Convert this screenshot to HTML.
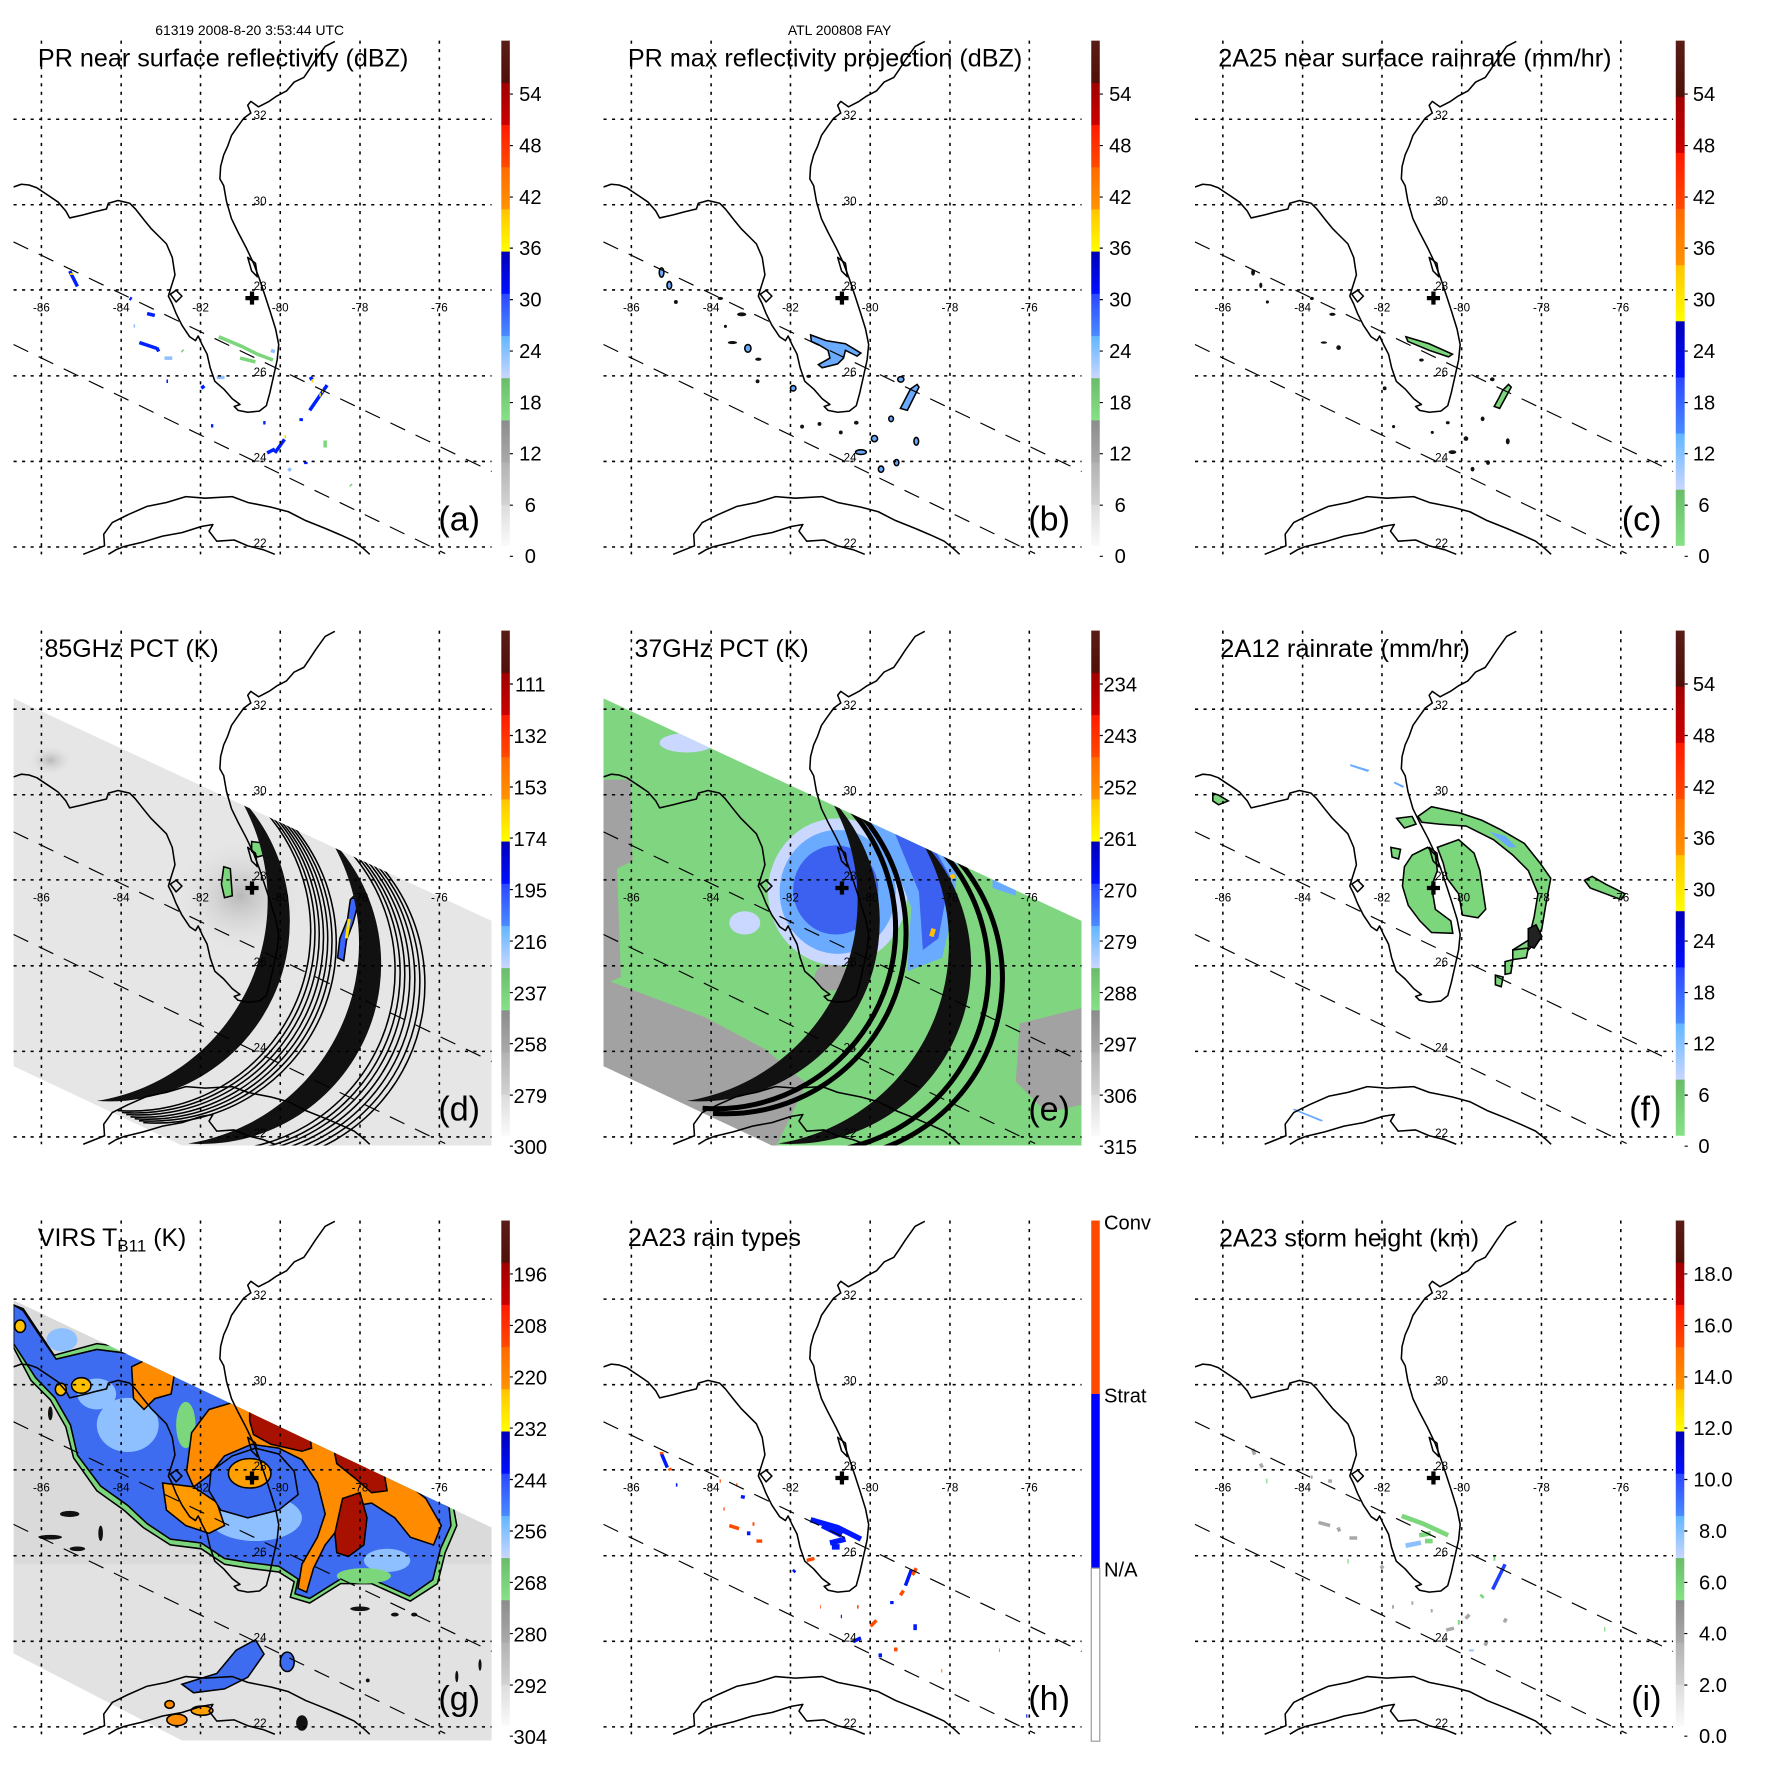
<!DOCTYPE html>
<html><head><meta charset="utf-8"><style>html,body{margin:0;padding:0;background:#fff}svg{display:block}text{font-family:"Liberation Sans",Arial,sans-serif}</style></head><body>
<svg xmlns="http://www.w3.org/2000/svg" xmlns:xlink="http://www.w3.org/1999/xlink" width="1771" height="1771" viewBox="0 0 4575 4575">
<defs>
<linearGradient id="b1" x1="0" y1="0" x2="0" y2="1"><stop offset="0" stop-color="#5a1c16"/><stop offset="1" stop-color="#4e1008"/></linearGradient>
<linearGradient id="b2" x1="0" y1="0" x2="0" y2="1"><stop offset="0" stop-color="#a00000"/><stop offset="1" stop-color="#cc0000"/></linearGradient>
<linearGradient id="b3" x1="0" y1="0" x2="0" y2="1"><stop offset="0" stop-color="#ff1a00"/><stop offset="1" stop-color="#ff4a00"/></linearGradient>
<linearGradient id="b4" x1="0" y1="0" x2="0" y2="1"><stop offset="0" stop-color="#ff6a00"/><stop offset="1" stop-color="#ff9400"/></linearGradient>
<linearGradient id="b5" x1="0" y1="0" x2="0" y2="1"><stop offset="0" stop-color="#ffc400"/><stop offset="1" stop-color="#ffff00"/></linearGradient>
<linearGradient id="b6" x1="0" y1="0" x2="0" y2="1"><stop offset="0" stop-color="#0000b8"/><stop offset="1" stop-color="#0010ff"/></linearGradient>
<linearGradient id="b7" x1="0" y1="0" x2="0" y2="1"><stop offset="0" stop-color="#2a46ff"/><stop offset="1" stop-color="#4a8cff"/></linearGradient>
<linearGradient id="b8" x1="0" y1="0" x2="0" y2="1"><stop offset="0" stop-color="#60b6ff"/><stop offset="1" stop-color="#cad6ff"/></linearGradient>
<linearGradient id="b9" x1="0" y1="0" x2="0" y2="1"><stop offset="0" stop-color="#6abc6a"/><stop offset="1" stop-color="#86e286"/></linearGradient>
<linearGradient id="b10" x1="0" y1="0" x2="0" y2="1"><stop offset="0" stop-color="#8c8c8c"/><stop offset="1" stop-color="#aaaaaa"/></linearGradient>
<linearGradient id="b11" x1="0" y1="0" x2="0" y2="1"><stop offset="0" stop-color="#b2b2b2"/><stop offset="1" stop-color="#d2d2d2"/></linearGradient>
<linearGradient id="b12" x1="0" y1="0" x2="0" y2="1"><stop offset="0" stop-color="#dcdcdc"/><stop offset="1" stop-color="#fafafa"/></linearGradient>
<radialGradient id="spot"><stop offset="0" stop-color="#b8b8b8"/><stop offset="1" stop-color="#e4e4e4" stop-opacity="0"/></radialGradient>
<clipPath id="pc"><rect x="35" y="105" width="1235" height="1330"/></clipPath>
<clipPath id="sw"><polygon points="35,280 1270,855 1270,1435 470,1435 35,1230"/></clipPath>
<clipPath id="swg"><polygon points="35,311 1270,898 1270,1448 470,1448 35,1223"/></clipPath>
<path id="arc" d="M615,530 A465,465 0 0 1 250,1320" fill="none"/>
<path id="cres" d="M615,530 A465,465 0 0 1 250,1320 A524,524 0 0 0 615,530 Z"/>
<g id="base">
<path d="M107,105V1432M313,105V1432M518,105V1432M724,105V1432M930,105V1432M1135,105V1432M35,308H1270M35,529H1270M35,749H1270M35,971H1270M35,1192H1270M35,1413H1270" stroke="#000" stroke-width="4" stroke-dasharray="8 14" fill="none"/>
<path d="M35,625L1270,1218M35,890L1150,1430" stroke="#000" stroke-width="3" stroke-dasharray="42 30" fill="none"/>
<g clip-path="url(#pc)" fill="none" stroke="#000" stroke-width="4" stroke-linejoin="round">
<path d="M865,107 L840,120 L815,155 L800,178 L785,200 L760,212 L740,235 L715,248 L695,262 L668,276 L648,262 L640,272 L648,292 L630,305 L612,330 L598,350 L588,378 L578,400 L570,430 L568,462 L578,480 L585,520 L598,565 L615,600 L636,640 L655,680 L670,720 L685,765 L698,805 L712,850 L720,890 L716,930 L706,975 L697,1015 L688,1048 L670,1062 L640,1065 L615,1060 L605,1050 L620,1045 L600,1030 L578,1005 L555,985 L543,950 L535,915 L522,890 L512,868 L505,880 L490,870 L470,840 L455,810 L445,785 L435,765 L440,748 L452,710 L445,665 L430,630 L410,610 L390,590 L372,568 L350,540 L335,525 L305,518 L280,525 L275,540 L245,547 L215,555 L180,563 L170,545 L150,522 L125,505 L95,485 L75,478 L55,476 L35,483"/>
<path d="M640,665 L660,680 L665,715 L650,700 Z"/>
<path d="M440,760 L455,750 L470,765 L455,780 Z"/>
<path d="M215,1432 L245,1420 L270,1410 L268,1380 L290,1350 L330,1330 L380,1308 L430,1298 L480,1283 L530,1287 L600,1283 L640,1298 L700,1310 L745,1322 L790,1345 L840,1365 L880,1382 L915,1398 L940,1418 L955,1432"/>
<path d="M710,1432 L680,1420 L640,1410 L605,1395 L560,1398 L540,1372 L550,1355 L520,1360 L470,1376 L420,1385 L370,1400 L320,1412 L300,1420 L280,1432"/>
</g>
<path d="M634,770H668M651,753V787" stroke="#000" stroke-width="11"/>
<g font-size="30" text-anchor="middle" fill="#000">
<text x="107" y="805">-86</text><text x="313" y="805">-84</text><text x="518" y="805">-82</text><text x="724" y="805">-80</text><text x="930" y="805">-78</text><text x="1135" y="805">-76</text>
<text x="672" y="308">32</text><text x="672" y="529">30</text><text x="672" y="749">28</text><text x="672" y="971">26</text><text x="672" y="1192">24</text><text x="672" y="1413">22</text>
</g>
</g>
<g id="cb12">
<rect x="1295" y="105" width="22" height="110" fill="url(#b1)"/><rect x="1295" y="214" width="22" height="110" fill="url(#b2)"/><rect x="1295" y="323" width="22" height="110" fill="url(#b3)"/><rect x="1295" y="432" width="22" height="110" fill="url(#b4)"/><rect x="1295" y="541" width="22" height="110" fill="url(#b5)"/><rect x="1295" y="650" width="22" height="110" fill="url(#b6)"/><rect x="1295" y="759" width="22" height="110" fill="url(#b7)"/><rect x="1295" y="868" width="22" height="110" fill="url(#b8)"/><rect x="1295" y="977" width="22" height="110" fill="url(#b9)"/><rect x="1295" y="1086" width="22" height="110" fill="url(#b10)"/><rect x="1295" y="1195" width="22" height="110" fill="url(#b11)"/><rect x="1295" y="1304" width="22" height="106" fill="url(#b12)"/>
<path d="M1317,243h8M1317,376h8M1317,509h8M1317,641h8M1317,774h8M1317,907h8M1317,1040h8M1317,1172h8M1317,1305h8M1317,1437h8" stroke="#000" stroke-width="3"/>
</g>
<g id="cb9">
<rect x="1317" y="105" width="23" height="146" fill="url(#b1)"/><rect x="1317" y="250" width="23" height="146" fill="url(#b2)"/><rect x="1317" y="395" width="23" height="146" fill="url(#b3)"/><rect x="1317" y="540" width="23" height="146" fill="url(#b4)"/><rect x="1317" y="685" width="23" height="146" fill="url(#b5)"/><rect x="1317" y="830" width="23" height="146" fill="url(#b6)"/><rect x="1317" y="975" width="23" height="146" fill="url(#b7)"/><rect x="1317" y="1120" width="23" height="146" fill="url(#b8)"/><rect x="1317" y="1265" width="23" height="145" fill="url(#b9)"/>
<path d="M1340,243h8M1340,376h8M1340,509h8M1340,641h8M1340,774h8M1340,907h8M1340,1040h8M1340,1172h8M1340,1305h8M1340,1437h8" stroke="#000" stroke-width="3"/>
</g>
</defs>
<rect width="4575" height="4575" fill="#fff"/>

<text x="645" y="90" font-size="36" text-anchor="middle">61319 2008-8-20 3:53:44 UTC</text>
<text x="2169" y="90" font-size="36" text-anchor="middle">ATL 200808 FAY</text>

<!-- (a) -->
<g>
<g fill="none" stroke-width="9">
<path stroke="#0020ff" d="M180,700l20,40M335,770l5,3M380,810l20,5M360,885l45,15M405,898l5,10M845,995l-45,65M800,980l8,-5M778,1080l0,8M735,1135l-25,35M690,1170l20,-10M790,1193l0,6M545,1100l6,0M520,1003l8,-6M680,1092l6,0M430,985l4,0"/>
<path stroke="#7cd67c" d="M565,870l60,25l40,20l40,15M620,925l40,10M840,1138l0,18M470,905l3,3M905,1252l3,3"/>
<path stroke="#8ec0ff" d="M425,925l20,0M345,842l4,0M745,1210l6,6M560,975l20,0M700,905l10,4"/>
<path stroke="#ffe000" d="M185,706l0,4M805,984l4,0M825,1020l4,0M735,1128l4,0M832,1010l3,0"/>
</g>
<use href="#base"/><use href="#cb12"/>
<text x="98" y="172" font-size="64" textLength="957" lengthAdjust="spacingAndGlyphs">PR near surface reflectivity (dBZ)</text>
<g font-size="52" text-anchor="middle"><text x="1370" y="261">54</text><text x="1370" y="394">48</text><text x="1370" y="527">42</text><text x="1370" y="659">36</text><text x="1370" y="792">30</text><text x="1370" y="925">24</text><text x="1370" y="1058">18</text><text x="1370" y="1190">12</text><text x="1370" y="1323">6</text><text x="1370" y="1455">0</text></g>
<text x="1240" y="1370" font-size="88" text-anchor="end">(a)</text>
</g>

<!-- (b) -->
<g transform="translate(1524,0)">
<g stroke="#000" stroke-width="4" fill="#6aaaff">
<path d="M570,865 L610,880 L660,888 L700,912 L690,920 L660,905 L655,925 L640,940 L600,950 L590,942 L620,925 L615,905 L590,890 L572,882Z"/>
<path d="M845,993 L850,1000 L820,1060 L802,1055 L815,1030 L828,1005Z"/>
<ellipse cx="185" cy="704" rx="6" ry="12"/><ellipse cx="205" cy="737" rx="6" ry="10"/><ellipse cx="408" cy="900" rx="8" ry="10"/><ellipse cx="803" cy="980" rx="8" ry="7"/><ellipse cx="778" cy="1082" rx="6" ry="7"/><ellipse cx="735" cy="1133" rx="8" ry="8"/><ellipse cx="700" cy="1168" rx="14" ry="6"/><ellipse cx="792" cy="1195" rx="6" ry="8"/><ellipse cx="752" cy="1212" rx="7" ry="8"/><ellipse cx="843" cy="1140" rx="6" ry="10"/><ellipse cx="525" cy="1003" rx="7" ry="7"/>
</g>
<g fill="#111"><ellipse cx="222" cy="780" rx="5" ry="5"/><ellipse cx="337" cy="771" rx="7" ry="4"/><ellipse cx="392" cy="812" rx="12" ry="5"/><ellipse cx="368" cy="885" rx="12" ry="4"/><ellipse cx="433" cy="985" rx="5" ry="5"/><ellipse cx="548" cy="1102" rx="5" ry="5"/><ellipse cx="593" cy="1095" rx="5" ry="5"/><ellipse cx="648" cy="1117" rx="5" ry="5"/><ellipse cx="688" cy="1092" rx="6" ry="5"/><ellipse cx="565" cy="972" rx="6" ry="4"/><ellipse cx="435" cy="928" rx="8" ry="4"/><ellipse cx="350" cy="843" rx="4" ry="4"/></g>
<use href="#base"/><use href="#cb12"/>
<text x="98" y="172" font-size="64" textLength="1019" lengthAdjust="spacingAndGlyphs">PR max reflectivity projection (dBZ)</text>
<g font-size="52" text-anchor="middle"><text x="1370" y="261">54</text><text x="1370" y="394">48</text><text x="1370" y="527">42</text><text x="1370" y="659">36</text><text x="1370" y="792">30</text><text x="1370" y="925">24</text><text x="1370" y="1058">18</text><text x="1370" y="1190">12</text><text x="1370" y="1323">6</text><text x="1370" y="1455">0</text></g>
<text x="1240" y="1370" font-size="88" text-anchor="end">(b)</text>
</g>

<!-- (c) -->
<g transform="translate(3052,0)">
<g stroke="#000" stroke-width="4" fill="#7cd67c">
<path d="M845,993 L852,1000 L822,1055 L808,1050 L820,1028 L830,1008Z"/>
<path d="M580,870 L640,888 L700,915 L690,922 L640,905 L585,882Z"/>
</g>
<g fill="#111"><ellipse cx="185" cy="704" rx="5" ry="8"/><ellipse cx="205" cy="737" rx="4" ry="7"/><ellipse cx="337" cy="771" rx="5" ry="4"/><ellipse cx="390" cy="812" rx="8" ry="4"/><ellipse cx="406" cy="898" rx="6" ry="6"/><ellipse cx="803" cy="980" rx="6" ry="5"/><ellipse cx="778" cy="1082" rx="5" ry="6"/><ellipse cx="735" cy="1133" rx="6" ry="6"/><ellipse cx="700" cy="1168" rx="10" ry="5"/><ellipse cx="792" cy="1195" rx="5" ry="6"/><ellipse cx="752" cy="1212" rx="5" ry="6"/><ellipse cx="843" cy="1140" rx="5" ry="8"/><ellipse cx="525" cy="1003" rx="5" ry="5"/><ellipse cx="548" cy="1102" rx="4" ry="4"/><ellipse cx="648" cy="1117" rx="4" ry="4"/><ellipse cx="688" cy="1092" rx="5" ry="4"/><ellipse cx="368" cy="885" rx="8" ry="3"/><ellipse cx="222" cy="780" rx="4" ry="4"/><ellipse cx="620" cy="930" rx="6" ry="4"/></g>
<use href="#base"/><use href="#cb9" transform="translate(-40,0)"/>
<text x="95" y="172" font-size="64" textLength="1016" lengthAdjust="spacingAndGlyphs">2A25 near surface rainrate (mm/hr)</text>
<g font-size="52" text-anchor="middle"><text x="1350" y="261">54</text><text x="1350" y="394">48</text><text x="1350" y="527">42</text><text x="1350" y="659">36</text><text x="1350" y="792">30</text><text x="1350" y="925">24</text><text x="1350" y="1058">18</text><text x="1350" y="1190">12</text><text x="1350" y="1323">6</text><text x="1350" y="1455">0</text></g>
<text x="1240" y="1370" font-size="88" text-anchor="end">(c)</text>
</g>

<!-- (d) -->
<g transform="translate(0,1524)">
<g clip-path="url(#sw)">
<rect x="35" y="200" width="1240" height="1240" fill="#e6e6e6"/>
<ellipse cx="620" cy="790" rx="170" ry="150" fill="url(#spot)"/>
<ellipse cx="130" cy="440" rx="60" ry="40" fill="url(#spot)"/>
<g stroke="#000" stroke-width="4">
<path fill="#7cd67c" d="M578,715 L595,720 L600,790 L580,795 L572,760Z M650,650 L690,655 L700,680 L665,690 L650,675Z"/>
<path fill="#3c64ff" d="M915,790 L928,800 L912,860 L895,905 L888,958 L872,950 L878,900 L898,850 L905,800Z"/>
</g>
<path d="M902,850 L895,900" stroke="#ffe000" stroke-width="8"/>
<g stroke="#000" stroke-width="4">
<use href="#arc" transform="translate(54,25)"/><use href="#arc" transform="translate(65,30)"/><use href="#arc" transform="translate(76,35)"/><use href="#arc" transform="translate(87,41)"/><use href="#arc" transform="translate(98,46)"/><use href="#arc" transform="translate(109,51)"/><use href="#arc" transform="translate(120,56)"/>
<use href="#arc" transform="translate(272,127)"/><use href="#arc" transform="translate(285,133)"/><use href="#arc" transform="translate(297,138)"/><use href="#arc" transform="translate(310,144)"/><use href="#arc" transform="translate(323,150)"/><use href="#arc" transform="translate(336,156)"/><use href="#arc" transform="translate(349,162)"/>
</g>
<use href="#cres" fill="#111"/><use href="#cres" fill="#111" transform="translate(236,110)"/>
</g>
<use href="#base"/><use href="#cb12"/>
<text x="115" y="173" font-size="64" textLength="450" lengthAdjust="spacingAndGlyphs">85GHz PCT (K)</text>
<g font-size="52" text-anchor="middle"><text x="1370" y="263">111</text><text x="1370" y="396">132</text><text x="1370" y="529">153</text><text x="1370" y="661">174</text><text x="1370" y="794">195</text><text x="1370" y="927">216</text><text x="1370" y="1060">237</text><text x="1370" y="1192">258</text><text x="1370" y="1325">279</text><text x="1370" y="1457">300</text></g>
<text x="1240" y="1370" font-size="88" text-anchor="end">(d)</text>
</g>

<!-- (e) -->
<g transform="translate(1524,1524)">
<g clip-path="url(#sw)">
<rect x="35" y="200" width="1240" height="1240" fill="#80d680"/>
<g fill="#a2a2a2">
<path d="M35,490 L105,490 L110,700 L70,720 L80,1000 L35,1020Z"/>
<path d="M35,1005 L300,1105 L450,1185 L560,1275 L480,1440 L35,1440Z"/>
<path d="M1110,1120 L1270,1080 L1270,1330 L1180,1350 L1100,1270Z"/>
<ellipse cx="625" cy="1000" rx="45" ry="35"/>
</g>
<g fill="#cad8ff"><ellipse cx="250" cy="395" rx="70" ry="25"/><ellipse cx="400" cy="860" rx="40" ry="30"/><ellipse cx="640" cy="780" rx="180" ry="190"/></g>
<ellipse cx="640" cy="780" rx="150" ry="160" fill="#6aaaff"/>
<ellipse cx="635" cy="775" rx="110" ry="115" fill="#3c60f0"/>
<path fill="#6aaaff" d="M720,560 L860,625 L950,710 L940,820 L910,950 L820,985 L830,820 L790,720 L720,640Z"/>
<path fill="#3c60f0" d="M780,610 L880,650 L930,740 L900,900 L860,930 L850,780Z"/>
<path fill="#6aaaff" d="M1040,740 L1100,760 L1100,790 L1040,770Z"/>
<path d="M882,895 l6,-20 M815,625 l4,4 M935,735 l4,10" stroke="#ffc000" stroke-width="12"/>
<g stroke="#000" stroke-width="13">
<use href="#arc" transform="translate(41,19)"/><use href="#arc" transform="translate(68,32)"/>
<use href="#arc" transform="translate(281,131)"/><use href="#arc" transform="translate(317,148)"/>
</g>
<use href="#cres" fill="#111"/><use href="#cres" fill="#111" transform="translate(236,110)"/>
</g>
<use href="#base"/><use href="#cb12"/>
<text x="115" y="173" font-size="64" textLength="450" lengthAdjust="spacingAndGlyphs">37GHz PCT (K)</text>
<g font-size="52" text-anchor="middle"><text x="1370" y="263">234</text><text x="1370" y="396">243</text><text x="1370" y="529">252</text><text x="1370" y="661">261</text><text x="1370" y="794">270</text><text x="1370" y="927">279</text><text x="1370" y="1060">288</text><text x="1370" y="1192">297</text><text x="1370" y="1325">306</text><text x="1370" y="1457">315</text></g>
<text x="1240" y="1370" font-size="88" text-anchor="end">(e)</text>
</g>

<!-- (f) -->
<g transform="translate(3052,1524)">
<g transform="translate(-4,25)" stroke="#000" stroke-width="4" fill="#7cd67c">
<path d="M615,560 L650,535 L720,550 L780,570 L830,595 L890,630 L930,680 L958,720 L945,790 L935,850 L915,890 L890,915 L860,925 L860,905 L900,880 L915,820 L925,760 L900,700 L860,660 L810,620 L740,585 L670,580 L625,575Z"/>
<path d="M600,660 L640,640 L660,660 L665,700 L650,740 L660,800 L700,830 L705,862 L650,860 L620,830 L590,790 L575,740 L580,690Z"/>
<path d="M665,640 L720,620 L760,655 L775,700 L790,800 L770,822 L730,815 L720,760 L690,720 L680,680Z"/>
<path d="M1045,725 L1065,715 L1100,735 L1150,760 L1140,775 L1100,760 L1060,745Z"/>
<path d="M545,640 L570,645 L565,670 L548,665Z M560,565 L600,560 L610,580 L580,590Z M85,500 L100,505 L125,520 L100,530 L85,520Z M860,905 L900,900 L895,925 L860,930Z M815,970 L835,975 L830,1000 L815,995Z M840,935 L860,930 L855,965 L840,968Z"/>
<path fill="#222" d="M900,850 L920,840 L935,870 L915,900 L900,895Z"/>
<path fill="#6aaaff" stroke="none" d="M800,600 L840,610 L870,640 L850,640Z M440,425 L490,440 L485,445 L440,430Z M555,470 L580,482 L575,486 L552,474Z M295,1315 L370,1345 L365,1348 L292,1318Z"/>
</g>
<use href="#base"/><use href="#cb9" transform="translate(-40,0)"/>
<text x="100" y="173" font-size="64" textLength="645" lengthAdjust="spacingAndGlyphs">2A12 rainrate (mm/hr)</text>
<g font-size="52" text-anchor="middle"><text x="1350" y="261">54</text><text x="1350" y="394">48</text><text x="1350" y="527">42</text><text x="1350" y="659">36</text><text x="1350" y="792">30</text><text x="1350" y="925">24</text><text x="1350" y="1058">18</text><text x="1350" y="1190">12</text><text x="1350" y="1323">6</text><text x="1350" y="1455">0</text></g>
<text x="1240" y="1370" font-size="88" text-anchor="end">(f)</text>
</g>

<!-- (g) -->
<g transform="translate(0,3048)">
<g clip-path="url(#swg)">
<g transform="translate(0,-7)">
<rect x="35" y="250" width="1240" height="1250" fill="#dadada"/>
<rect x="35" y="1000" width="1240" height="500" fill="#e2e2e2"/>
<g stroke="#000" stroke-width="4">
<path fill="#7cd67c" d="M35,330 L60,340 L100,400 L140,460 L250,430 L330,440 L420,470 L520,520 L615,570 L1040,775 L1170,845 L1180,900 L1150,970 L1130,1050 L1060,1095 L960,1050 L880,1050 L800,1100 L750,1085 L760,1045 L720,1020 L640,1010 L580,1000 L520,960 L440,950 L370,905 L320,860 L250,810 L190,725 L170,645 L130,575 L80,525 L35,440Z"/>
<path fill="#3d6cf0" d="M35,330 L60,345 L100,405 L145,470 L250,445 L330,455 L420,485 L520,535 L615,578 L1040,782 L1160,852 L1165,900 L1138,960 L1118,1040 L1058,1082 L960,1038 L880,1038 L800,1088 L762,1076 L770,1038 L720,1005 L640,995 L580,985 L520,945 L440,935 L380,895 L330,848 L260,798 L200,718 L182,640 L142,570 L92,518 L35,430Z"/>
</g>
<g fill="#8ec0ff"><ellipse cx="660" cy="880" rx="120" ry="60"/><ellipse cx="330" cy="640" rx="80" ry="70"/><ellipse cx="250" cy="560" rx="50" ry="40"/><ellipse cx="1000" cy="990" rx="60" ry="30"/><ellipse cx="160" cy="420" rx="40" ry="30"/></g>
<g fill="#7cd67c"><ellipse cx="640" cy="860" rx="50" ry="15"/><ellipse cx="940" cy="1030" rx="70" ry="20"/><ellipse cx="480" cy="640" rx="25" ry="60"/></g>
<g stroke="#000" stroke-width="4">
<path fill="#ff8c00" d="M495,660 L540,600 L615,578 L1040,782 L1100,830 L1140,900 L1120,950 L1060,930 L1020,880 L960,842 L900,852 L880,900 L840,950 L810,1010 L792,1072 L770,1062 L780,1000 L820,930 L840,870 L820,790 L780,730 L720,700 L650,690 L580,720 L540,770 L500,800 L482,760Z"/>
<path fill="#ff8c00" d="M340,490 L380,470 L420,480 L452,500 L442,560 L400,572 L372,600 L345,572Z"/>
<path fill="#ff9a00" d="M420,790 L500,800 L560,840 L580,900 L540,920 L480,900 L430,860Z"/>
<path fill="#3d6cf0" d="M545,760 L600,720 L660,700 L720,715 L760,760 L770,820 L720,860 L640,880 L570,860 L540,810Z"/>
<ellipse cx="645" cy="765" rx="55" ry="38" fill="#ffa000"/>
<path fill="#a81000" d="M645,592 L800,665 L805,700 L780,708 L700,690 L655,665 L645,630Z"/>
<path fill="#a81000" d="M860,690 L990,752 L1000,810 L960,815 L920,780 L870,740Z"/>
<path fill="#a81000" d="M885,830 L930,815 L948,880 L940,950 L900,980 L870,970 L865,920Z"/>
<ellipse cx="210" cy="538" rx="25" ry="20" fill="#ffc000"/><ellipse cx="157" cy="548" rx="14" ry="16" fill="#ffc000"/><ellipse cx="52" cy="385" rx="14" ry="16" fill="#ffc000"/>
<path fill="#3d6cf0" d="M470,1310 L560,1282 L610,1222 L660,1195 L682,1232 L640,1292 L580,1322 L500,1332Z"/>
<ellipse cx="742" cy="1252" rx="18" ry="25" fill="#3d6cf0"/>
<ellipse cx="522" cy="1378" rx="28" ry="12" fill="#ffa000"/><ellipse cx="457" cy="1402" rx="26" ry="15" fill="#ff8c00"/><ellipse cx="438" cy="1362" rx="12" ry="10" fill="#ff8c00"/>
</g>
<g fill="#111"><ellipse cx="130" cy="610" rx="6" ry="18"/><ellipse cx="180" cy="870" rx="25" ry="8"/><ellipse cx="130" cy="930" rx="30" ry="6"/><ellipse cx="200" cy="960" rx="20" ry="6"/><ellipse cx="260" cy="920" rx="6" ry="20"/><ellipse cx="930" cy="1115" rx="25" ry="6"/><ellipse cx="1020" cy="1130" rx="10" ry="5"/><ellipse cx="1070" cy="1130" rx="8" ry="5"/><ellipse cx="1240" cy="1260" rx="4" ry="15"/><ellipse cx="1180" cy="1290" rx="4" ry="15"/><ellipse cx="780" cy="1410" rx="15" ry="20"/><ellipse cx="950" cy="1300" rx="5" ry="5"/></g>
</g>
</g>
<use href="#base"/><use href="#cb12"/>
<text x="98" y="171" font-size="64">VIRS T<tspan font-size="44" dy="14">B11</tspan><tspan dy="-14"> (K)</tspan></text>
<g font-size="52" text-anchor="middle"><text x="1370" y="263">196</text><text x="1370" y="396">208</text><text x="1370" y="529">220</text><text x="1370" y="661">232</text><text x="1370" y="794">244</text><text x="1370" y="927">256</text><text x="1370" y="1060">268</text><text x="1370" y="1192">280</text><text x="1370" y="1325">292</text><text x="1370" y="1457">304</text></g>
<text x="1240" y="1370" font-size="88" text-anchor="end">(g)</text>
</g>

<!-- (h) -->
<g transform="translate(1524,3048)">
<g transform="translate(0,-7)" fill="none" stroke-width="9">
<path stroke="#0018ff" stroke-width="14" d="M570,885 L640,905 L700,935 M600,900 L650,925 M620,945 L660,935 M625,955 l20,0"/>
<path stroke="#0018ff" d="M185,715 l15,35 M830,1015 l-15,40 M780,1095 l0,8 M700,1190 l-20,10 M750,1230 l0,10 M840,1155 l0,15 M525,1020 l5,-5 M410,915 l0,10 M390,825 l10,2 M222,795 l4,0 M648,1135 l3,0 M1127,1392 l3,0"/>
<path stroke="#ff4a00" d="M185,710 l0,6 M205,752 l3,5 M843,1010 l-10,18 M810,1068 l-8,12 M725,1160 l15,-15 M790,1215 l0,10 M360,900 l25,8 M430,940 l15,0 M560,990 l20,-5 M595,1110 l2,0 M690,1110 l4,0 M335,785 l3,0 M378,795 l3,0 M1057,1222 l2,0 M908,1275 l2,0 M345,857 l3,0 M420,896 l5,0"/>
</g>
<use href="#base"/>
<rect x="1295" y="105" width="22" height="448" fill="#ff4a00"/>
<rect x="1295" y="553" width="22" height="450" fill="#0000ff"/>
<rect x="1295" y="1003" width="22" height="447" fill="#fff" stroke="#999" stroke-width="3"/>
<g font-size="52"><text x="1328" y="128">Conv</text><text x="1328" y="575">Strat</text><text x="1328" y="1025">N/A</text></g>
<text x="98" y="171" font-size="64" textLength="447" lengthAdjust="spacingAndGlyphs">2A23 rain types</text>
<text x="1240" y="1370" font-size="88" text-anchor="end">(h)</text>
</g>

<!-- (i) -->
<g transform="translate(3052,3048)">
<g transform="translate(-26,-27)" fill="none" stroke-width="9">
<path stroke="#a8a8a8" d="M210,722 l5,15 M230,760 l5,10 M380,912 l30,8 M430,925 l5,10 M460,952 l20,0 M540,1030 l8,-5 M570,1130 l5,0 M620,1120 l5,0 M670,1140 l5,0 M710,1190 l20,-5 M760,1160 l10,-10 M815,1220 l-5,10 M860,1170 l5,-10 M360,795 l5,0 M405,805 l10,0"/>
<path stroke="#7cd67c" stroke-width="12" d="M595,895 L650,915 L715,945 M640,945 l30,-5 M655,960 l20,0 M800,1105 l5,-5 M740,1170 l5,0 M832,1005 l5,0 M245,805 l3,0 M455,1012 l3,0 M1118,1188 l3,0"/>
<path stroke="#8ec0ff" stroke-width="12" d="M605,972 l40,-8 M775,1240 l0,5"/>
<path stroke="#2040ff" d="M862,1020 L830,1085"/>
</g>
<use href="#base"/><use href="#cb12" transform="translate(-18,0)"/>
<text x="97" y="172" font-size="64" textLength="672" lengthAdjust="spacingAndGlyphs">2A23 storm height (km)</text>
<g font-size="52" text-anchor="middle"><text x="1373" y="261">18.0</text><text x="1373" y="394">16.0</text><text x="1373" y="527">14.0</text><text x="1373" y="659">12.0</text><text x="1373" y="792">10.0</text><text x="1373" y="925">8.0</text><text x="1373" y="1058">6.0</text><text x="1373" y="1190">4.0</text><text x="1373" y="1323">2.0</text><text x="1373" y="1455">0.0</text></g>
<text x="1240" y="1370" font-size="88" text-anchor="end">(i)</text>
</g>
</svg>
</body></html>
